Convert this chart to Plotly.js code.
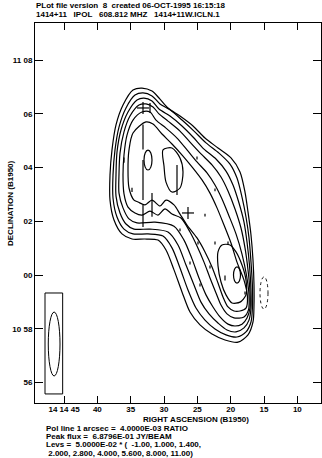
<!DOCTYPE html>
<html><head><meta charset="utf-8">
<script src="https://cdn.plot.ly/plotly-3.0.1.min.js"></script>
<style>html,body{margin:0;padding:0;background:#fff}#chart{width:322px;height:458px}</style>
</head><body><div id="chart"></div>
<script>
// Axis ticks
const raTickVals = [45, 40, 35, 30, 25, 20, 15, 10];
const raTickText = ['14 14 45', '40', '35', '30', '25', '20', '15', '10'];
const decTickVals = [8, 6, 4, 2, 0, -2, -4];
const decTickText = ['11 08', '06', '04', '02', '00', '10 58', '56'];

// Contour levels (multiples of 5.0000E-02 JY/BEAM)
const levels = [-1.00, 1.000, 1.400, 2.000, 2.800, 4.000, 5.600, 8.000, 11.00];

// Contour paths: RA seconds (14h14m + s), Dec arcmin offset from 11 00
const c1RA = [34.65,33.30,31.80,30.60,29.40,27.60,25.65,23.85,21.90,19.95,18.60,17.85,17.40,16.95,16.65,16.50,16.50,16.65,17.40,18.90,20.85,22.80,24.60,26.10,27.30,28.50,29.70,30.90,32.85,34.80,36.30,37.50,38.10,38.10,37.80,37.20,36.15];
const c1Dec = [6.89,6.96,6.85,6.55,6.22,5.92,5.55,5.10,4.73,4.36,3.84,3.09,2.35,1.49,0.56,-0.37,-1.12,-1.75,-2.23,-2.50,-2.42,-2.20,-1.86,-1.38,-0.63,0.19,0.93,1.30,1.34,1.34,1.53,2.05,2.79,3.72,4.66,5.59,6.33];
const c2RA = [34.35,33.15,31.80,30.60,29.10,27.30,25.50,23.70,21.75,20.10,19.05,18.30,17.70,17.25,16.95,16.73,16.73,16.95,17.70,19.05,20.70,22.35,23.85,25.20,26.40,27.60,28.80,30.15,32.40,34.65,36.00,37.05,37.65,37.65,37.35,36.75,35.70];
const c2Dec = [6.70,6.78,6.67,6.37,6.15,5.77,5.36,4.92,4.54,4.13,3.61,2.90,2.16,1.38,0.48,-0.45,-1.19,-1.75,-2.12,-2.31,-2.23,-2.01,-1.68,-1.23,-0.56,0.26,1.01,1.45,1.53,1.53,1.71,2.16,2.87,3.72,4.66,5.51,6.22];
const c3RA = [34.05,33.00,31.80,30.75,29.10,27.30,25.65,24.00,22.20,20.70,19.65,18.75,18.00,17.55,17.18,16.95,16.95,17.25,18.00,19.20,20.55,21.90,23.25,24.45,25.50,26.70,27.90,29.40,32.10,34.50,35.70,36.60,37.20,37.20,37.05,36.45,35.40];
const c3Dec = [6.52,6.59,6.48,6.18,5.92,5.55,5.14,4.69,4.32,3.87,3.35,2.68,1.97,1.23,0.37,-0.56,-1.23,-1.68,-1.97,-2.12,-2.05,-1.79,-1.45,-1.01,-0.37,0.37,1.12,1.60,1.71,1.71,1.90,2.31,2.94,3.72,4.58,5.40,6.07];
const c4RA = [33.75,32.70,31.65,30.75,29.40,27.60,26.10,24.45,22.80,21.45,20.40,19.35,18.45,17.85,17.40,17.10,17.10,17.55,18.30,19.35,20.40,21.60,22.65,23.70,24.75,25.80,27.00,28.50,31.35,34.05,35.25,36.15,36.75,36.75,36.60,36.00,35.10];
const c4Dec = [6.33,6.37,6.26,6.00,5.73,5.36,4.95,4.51,4.10,3.65,3.13,2.46,1.75,1.01,0.19,-0.63,-1.23,-1.60,-1.83,-1.90,-1.83,-1.56,-1.19,-0.74,-0.11,0.60,1.30,1.82,1.97,1.94,2.09,2.50,3.05,3.76,4.54,5.33,5.92];
const c5RA = [33.30,32.10,31.20,29.70,28.05,26.55,25.05,23.55,22.35,21.30,20.25,19.20,18.30,17.63,17.25,17.33,18.00,19.50,20.55,21.45,22.20,23.10,24.00,25.05,26.10,27.45,28.80,29.85,30.90,32.10,33.30,34.35,35.40,36.00,36.15,36.00,35.55,34.65];
const c5Dec = [6.07,6.07,5.77,5.47,5.10,4.66,4.21,3.80,3.35,2.83,2.20,1.53,0.78,0,-0.74,-1.30,-1.56,-1.60,-1.45,-1.12,-0.67,-0.11,0.48,1.08,1.60,2.12,2.27,2.46,2.23,2.38,2.23,2.31,2.53,3.02,3.72,4.47,5.21,5.77];
const c6RA = [32.70,31.65,30.30,28.80,27.15,25.65,24.30,23.10,22.05,21.00,19.95,19.05,18.00,17.48,17.70,18.60,19.50,20.40,21.15,21.90,22.80,23.85,25.05,26.55,27.60,28.50,29.70,30.60,31.80,32.85,33.90,34.50,35.25,35.40,35.25,34.65];
const c6Dec = [5.70,5.62,5.25,4.88,4.43,3.98,3.54,3.05,2.50,1.86,1.19,0.48,-0.19,-0.82,-1.23,-1.34,-1.34,-1.19,-0.82,-0.30,0.30,0.86,1.38,1.86,2.27,2.61,2.79,2.57,2.79,2.61,2.72,2.79,3.24,3.91,4.66,5.29];
const c7aRA = [20.10,19.20,18.30,17.70,17.70,18.60,19.80,20.70,21.45,21.90,21.90,21.30];
const c7aDec = [1.12,0.86,0.37,-0.19,-0.74,-1.01,-1.04,-0.74,-0.26,0.34,0.86,1.12];
const c7bRA = [30.15,28.80,27.60,27.15,27.60,28.80,29.70,30.00];
const c7bDec = [4.66,4.73,4.36,3.84,3.24,3.09,3.46,4.06];

// Small elliptical contour islands: centre, half widths, level
const ovalRA = [32.40, 19.05, 15.00];
const ovalDec = [4.28, 0.00, -0.67];
const ovalHalfRA = [0.60, 0.525, 0.60];
const ovalHalfDec = [0.37, 0.30, 0.60];
const ovalLevel = [8.000, 11.00, -1.00];

// Polarization vectors (centre RA s, Dec arcmin, length arcmin)
const polRA = [33.15,33.15,33.15,31.80,28.05,32.10,36.00,34.80,24.90,22.35,20.40,26.10,23.10,20.85,17.85,25.05,22.35,23.85,27.60,24.60];
const polDec = [5.14,3.54,2.20,2.61,3.54,6.22,4.28,3.17,1.19,1.19,1.19,0.45,0.30,-0.11,-0.67,4.36,3.17,2.23,1.68,-0.37];
const polLen = [0.93,1.49,0.82,0.89,1.12,0.37,0.19,0.15,0.11,0.11,0.11,0.11,0.11,0.19,0.11,0.11,0.11,0.11,0.11,0.11];

// Cross markers
const crossRA = [33.15, 26.40];
const crossDec = [6.22, 2.31];

// Beam
const beamRA = 46.48, beamDec = -2.57, beamHalfRA = 0.88, beamHalfDec = 1.19;
const beamBoxRA = [47.85, 45.20], beamBoxDec = [-0.67, -4.43];

const traces = [];
const paths = [[c1RA,c1Dec],[c2RA,c2Dec],[c3RA,c3Dec],[c4RA,c4Dec],[c5RA,c5Dec],[c6RA,c6Dec],[c7aRA,c7aDec],[c7bRA,c7bDec]];
paths.forEach(([ra, dec]) => {
  traces.push({type:'scatter', mode:'lines', x: ra.concat([ra[0]]), y: dec.concat([dec[0]]),
    line:{color:'#000', width:1.2, shape:'spline', smoothing:0.8}, hoverinfo:'skip', showlegend:false});
});
// pol vectors
const px = [], py = [];
polRA.forEach((r, i) => { px.push(r, r, null); py.push(polDec[i]-polLen[i]/2, polDec[i]+polLen[i]/2, null); });
traces.push({type:'scatter', mode:'lines', x:px, y:py, line:{color:'#000', width:1.2}, hoverinfo:'skip', showlegend:false});
// crosses
const cx = [], cy = [];
crossRA.forEach((r, i) => {
  cx.push(r+0.9, r-0.9, null, r, r, null);
  cy.push(crossDec[i], crossDec[i], null, crossDec[i]-0.22, crossDec[i]+0.22, null);
});
traces.push({type:'scatter', mode:'lines', x:cx, y:cy, line:{color:'#000', width:1.2}, hoverinfo:'skip', showlegend:false});

const shapes = [];
ovalRA.forEach((r, i) => {
  shapes.push({type:'circle', xref:'x', yref:'y', x0:r+ovalHalfRA[i], x1:r-ovalHalfRA[i], y0:ovalDec[i]-ovalHalfDec[i], y1:ovalDec[i]+ovalHalfDec[i],
    line:{color:'#000', width: ovalLevel[i] < 0 ? 0.9 : 1.2, dash: ovalLevel[i] < 0 ? 'dot' : 'solid'}});
});
shapes.push({type:'rect', xref:'x', yref:'y', x0:beamBoxRA[0], x1:beamBoxRA[1], y0:beamBoxDec[0], y1:beamBoxDec[1], line:{color:'#000', width:1}});
shapes.push({type:'circle', xref:'x', yref:'y', x0:beamRA+beamHalfRA, x1:beamRA-beamHalfRA, y0:beamDec-beamHalfDec, y1:beamDec+beamHalfDec, line:{color:'#000', width:1}});

const F = 'Liberation Sans, Arial, Helvetica, sans-serif';
const tf = {family:F, size:8, color:'#000'};
const nb = s => s.replace(/ /g, '\u00A0');
const b = s => '<b>' + nb(s) + '</b>';
function ann(text, x, y, xanchor, extra) {
  return Object.assign({text: b(text), xref:'paper', yref:'paper', x:x, y:y, xanchor:xanchor, yanchor:'middle', showarrow:false, font:tf}, extra || {});
}
const W = 286, H = 380, L = 35, T = 23;
const pxX = x => (x - L) / W, pxY = y => (T + H - y) / H;
const annotations = [
  ann('PLot file version  8  created 06-OCT-1995 16:15:18', pxX(34), pxY(6), 'left'),
  ann('1414+11   IPOL   608.812 MHZ   1414+11W.ICLN.1', pxX(34), pxY(14.5), 'left'),
  ann('RIGHT ASCENSION (B1950)', pxX(196), pxY(419.5), 'center', {yanchor:'middle'}),
  ann('DECLINATION (B1950)', pxX(10), pxY(203), 'center', {textangle:-90}),
  ann('Pol line 1 arcsec =  4.0000E-03 RATIO', pxX(44), pxY(428), 'left'),
  ann('Peak flux =  6.8796E-01 JY/BEAM', pxX(44), pxY(436.5), 'left'),
  ann('Levs =  5.0000E-02 * (  -1.00, 1.000, 1.400,', pxX(44), pxY(445), 'left'),
  ann(' 2.000, 2.800, 4.000, 5.600, 8.000, 11.00)', pxX(44), pxY(453.5), 'left')
];

const axisCommon = {showgrid:false, zeroline:false, showline:true, linecolor:'#000', linewidth:1, mirror:'allticks',
  ticks:'inside', ticklen:7, tickwidth:1, tickcolor:'#000', tickfont:tf, fixedrange:true};
const layout = {
  width:322, height:458, margin:{l:35, r:1, t:23, b:55}, paper_bgcolor:'#fff', plot_bgcolor:'#fff',
  showlegend:false, font:{family:F, color:'#000'},
  xaxis: Object.assign({}, axisCommon, {range:[49.35, 6.45], tickmode:'array', tickvals:raTickVals, ticktext:raTickText.map(b), ticklabelstandoff:-2}),
  yaxis: Object.assign({}, axisCommon, {range:[-4.767, 9.385], tickmode:'array', tickvals:decTickVals, ticktext:decTickText.map(b), ticklen:8}),
  shapes: shapes, annotations: annotations
};
Plotly.newPlot('chart', traces, layout, {displayModeBar:false, staticPlot:true});
</script></body></html>
